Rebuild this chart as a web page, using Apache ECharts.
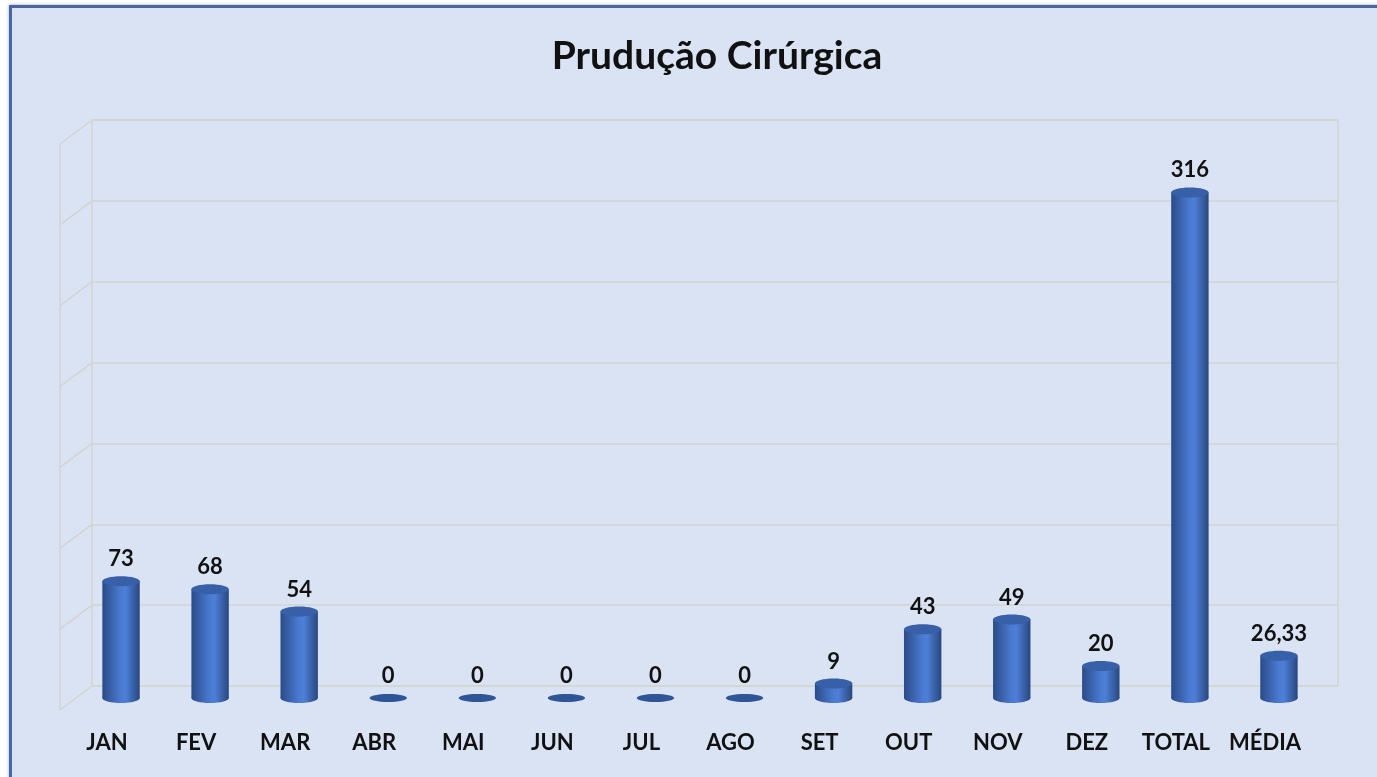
<!DOCTYPE html>
<html>
<head>
<meta charset="utf-8">
<script src="https://cdn.jsdelivr.net/npm/echarts@6/dist/echarts.min.js"></script>
<style>
  html, body { margin: 0; padding: 0; background: #fff; overflow: hidden; }
  #frame {
    position: absolute; left: 9px; top: 5px; width: 1400px; height: 800px;
    background: #dae3f3; border: 3px solid #4a66a0; box-shadow: 0 0 3px #8ea3c8;
  }
  #chart { position: absolute; left: 0; top: 0; width: 1377px; height: 777px; }
</style>
</head>
<body>
<div id="frame"></div>
<div id="chart"></div>
<script>
// dados do gráfico
var categories = ['JAN', 'FEV', 'MAR', 'ABR', 'MAI', 'JUN', 'JUL', 'AGO', 'SET', 'OUT', 'NOV', 'DEZ', 'TOTAL', 'MÉDIA']
var values = [73, 68, 54, 0, 0, 0, 0, 0, 9, 43, 49, 20, 316, 26.33]
var wallTicks = [0, 50, 100, 150, 200, 250, 300, 350]

var gridColor = '#d3d4cf'
var fontFamily = 'Lato, "Open Sans", sans-serif'

function fmt (v) {
  return String(v).replace('.', ',')
}

// parede lateral esquerda (perspectiva 3D)
function renderSide (params, api) {
  var v = api.value(1)
  var p = api.coord([0, v])
  var children = [{
    type: 'line',
    shape: { x1: p[0], y1: p[1], x2: p[0] - 32, y2: p[1] + 24 },
    style: { stroke: gridColor, lineWidth: 1.5 }
  }]
  if (v === 350) {
    var p0 = api.coord([0, 0])
    children.push({
      type: 'line',
      shape: { x1: p[0] - 32, y1: p[1] + 24, x2: p0[0] - 32, y2: p0[1] + 24 },
      style: { stroke: gridColor, lineWidth: 1.5 }
    })
  }
  return { type: 'group', children: children }
}

// cilindros
function renderCylinder (params, api) {
  var idx = api.value(0)
  var v = api.value(1)
  var base = api.coord([idx, 0])
  var top = api.coord([idx, v])
  var w = api.size([1, 0])[0] * 0.42
  var rx = w / 2
  var ry = 5
  var grad = new echarts.graphic.LinearGradient(0, 0, 1, 0, [
    { offset: 0, color: '#2b4b88' },
    { offset: 0.5, color: '#4a7bd2' },
    { offset: 0.62, color: '#4d7fd8' },
    { offset: 1, color: '#29477f' }
  ])
  var children = []
  if (v > 0) {
    children.push({
      type: 'rect',
      shape: { x: base[0] - rx, y: top[1], width: w, height: base[1] - top[1] },
      style: { fill: grad }
    })
    children.push({
      type: 'ellipse',
      shape: { cx: base[0], cy: base[1], rx: rx, ry: ry },
      style: { fill: grad }
    })
    children.push({
      type: 'ellipse',
      shape: { cx: top[0], cy: top[1], rx: rx, ry: ry },
      style: { fill: '#3760a8' }
    })
  } else {
    children.push({
      type: 'ellipse',
      shape: { cx: base[0], cy: base[1], rx: rx, ry: 4 },
      style: { fill: '#2f5597' }
    })
  }
  children.push({
    type: 'text',
    style: {
      text: fmt(v),
      x: top[0],
      y: top[1] - ry - 6,
      align: 'center',
      verticalAlign: 'bottom',
      fontFamily: fontFamily,
      fontWeight: 'bold',
      fontSize: 22,
      fill: '#111'
    }
  })
  return { type: 'group', children: children }
}

var option = {
  animation: false,
  title: {
    text: 'Prudução Cirúrgica',
    left: 712,
    top: 32,
    textAlign: 'center',
    textStyle: { fontFamily: fontFamily, fontWeight: 'bold', fontSize: 39, color: '#111' }
  },
  grid: [
    { left: 92, right: 39, top: 120, bottom: 91, show: true, borderColor: gridColor, borderWidth: 1.5 },
    { left: 76.5, right: 53.5, top: 138, bottom: 79 }
  ],
  xAxis: [
    { gridIndex: 0, type: 'value', min: 0, max: 1, show: false },
    {
      gridIndex: 1,
      type: 'category',
      data: categories,
      axisLine: { show: false },
      axisTick: { show: false },
      axisLabel: {
        interval: 0,
        hideOverlap: false,
        margin: 34,
        padding: [0, 28, 0, 0],
        color: '#111',
        fontFamily: fontFamily,
        fontWeight: 'bold',
        fontSize: 22
      }
    }
  ],
  yAxis: [
    {
      gridIndex: 0,
      type: 'value',
      min: 0,
      max: 350,
      interval: 50,
      axisLabel: { show: false },
      axisLine: { show: false },
      axisTick: { show: false },
      splitLine: { lineStyle: { color: gridColor, width: 1.5 } }
    },
    { gridIndex: 1, type: 'value', min: 0, max: 350, interval: 50, show: false }
  ],
  series: [
    {
      type: 'custom',
      xAxisIndex: 0,
      yAxisIndex: 0,
      clip: false,
      silent: true,
      renderItem: renderSide,
      data: wallTicks.map(function (t) { return [0, t] })
    },
    {
      type: 'custom',
      xAxisIndex: 1,
      yAxisIndex: 1,
      clip: false,
      renderItem: renderCylinder,
      data: values.map(function (v, i) { return [i, v] })
    }
  ]
}

var myChart = echarts.init(document.getElementById('chart'))
myChart.setOption(option)
</script>
</body>
</html>
